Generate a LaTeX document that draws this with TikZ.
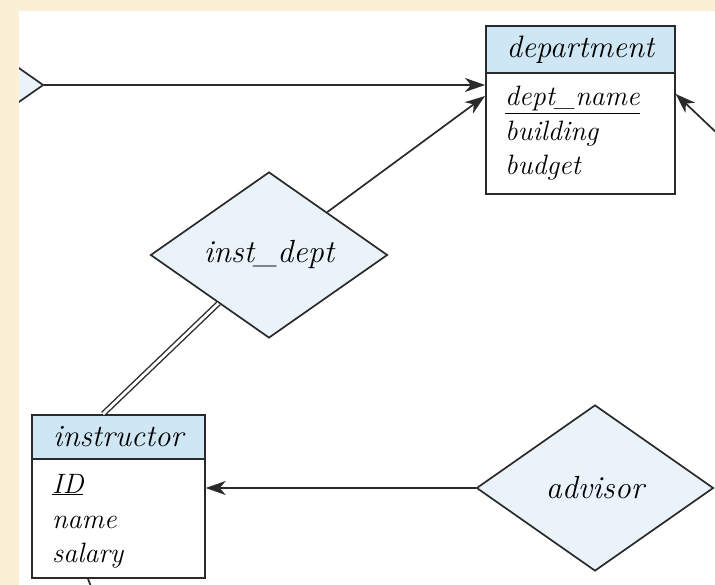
\documentclass[tikz,border=0pt]{standalone}
\usetikzlibrary{shapes.geometric,arrows.meta}
\definecolor{beige}{HTML}{FBEFD5}
\definecolor{hdrblue}{HTML}{CFE7F5}
\definecolor{relblue}{HTML}{EBF3FA}
\definecolor{ink}{HTML}{2A2A2A}
\begin{document}
\begin{tikzpicture}[x=1pt,y=-1pt,
  line/.style={draw=ink,line width=1.7pt},
  hdr/.style={line, fill=hdrblue, anchor=north west, inner sep=0pt, text=black,
    font=\fontsize{31}{36}\selectfont\itshape},
  bodybox/.style={line, fill=white, anchor=north west, inner sep=0pt},
  attr/.style={anchor=base west, inner sep=0pt, text=black,
    font=\fontsize{28}{32}\selectfont\itshape},
  rel/.style={diamond, line, fill=relblue, minimum width=237pt, minimum height=166pt,
    inner sep=0pt, aspect=1.43, text=black, font=\fontsize{32}{36}\selectfont\itshape},
  arr/.style={line, -{Stealth[length=20pt,width=14pt,inset=6pt]}},
  dbl/.style={draw=ink, line width=1.4pt, double=white, double distance=2.8pt},
]
\useasboundingbox (0,0) rectangle (715,585);
\fill[beige] (0,0) rectangle (715,585);
\fill[white] (19,11) rectangle (715,585);
\begin{scope}
\clip (19,11) rectangle (715,585);
% department
\node[hdr, minimum width=189pt, minimum height=47pt] (depth) at (485,25) {department};
\node[bodybox, minimum width=189pt, minimum height=121pt] (deptb) at (485,72) {};
\node[attr] (dn) at (505,106) {\underline{dept\_name}};
\node[attr] (bd) at (505,141) {building};
\node[attr] (bg) at (505,175) {budget};
% instructor
\node[hdr, minimum width=173pt, minimum height=44pt] (instrh) at (31,414) {instructor};
\node[bodybox, minimum width=173pt, minimum height=119pt] (instrb) at (31,458) {};
\node[attr] (id) at (52,493) {\underline{ID}};
\node[attr] (nm) at (52,528) {name};
\node[attr] (sl) at (52,562) {salary};
% relationships
\node[rel] (rel0) at (-75,85) {};
\node[rel] (inst) at (269,255) {inst\_dept};
\node[rel] (adv) at (595,488) {advisor};
% connectors
\coordinate (c1) at (740,155);
\coordinate (c2) at (96,600);
\draw[arr] (rel0.east) -- (rel0.east -| deptb.west);
\draw[arr] (inst) -- ([yshift=-24pt]deptb.north west);
\draw[arr] (c1) -- ([yshift=-22pt]deptb.north east);
\draw[dbl] ([xshift=72pt]instrh.north west) -- (inst);
\draw[arr] (adv.west) -- (adv.west -| instrb.east);
\draw[line] ([xshift=57pt]instrb.south west) -- (c2);
\end{scope}
\end{tikzpicture}
\end{document}
